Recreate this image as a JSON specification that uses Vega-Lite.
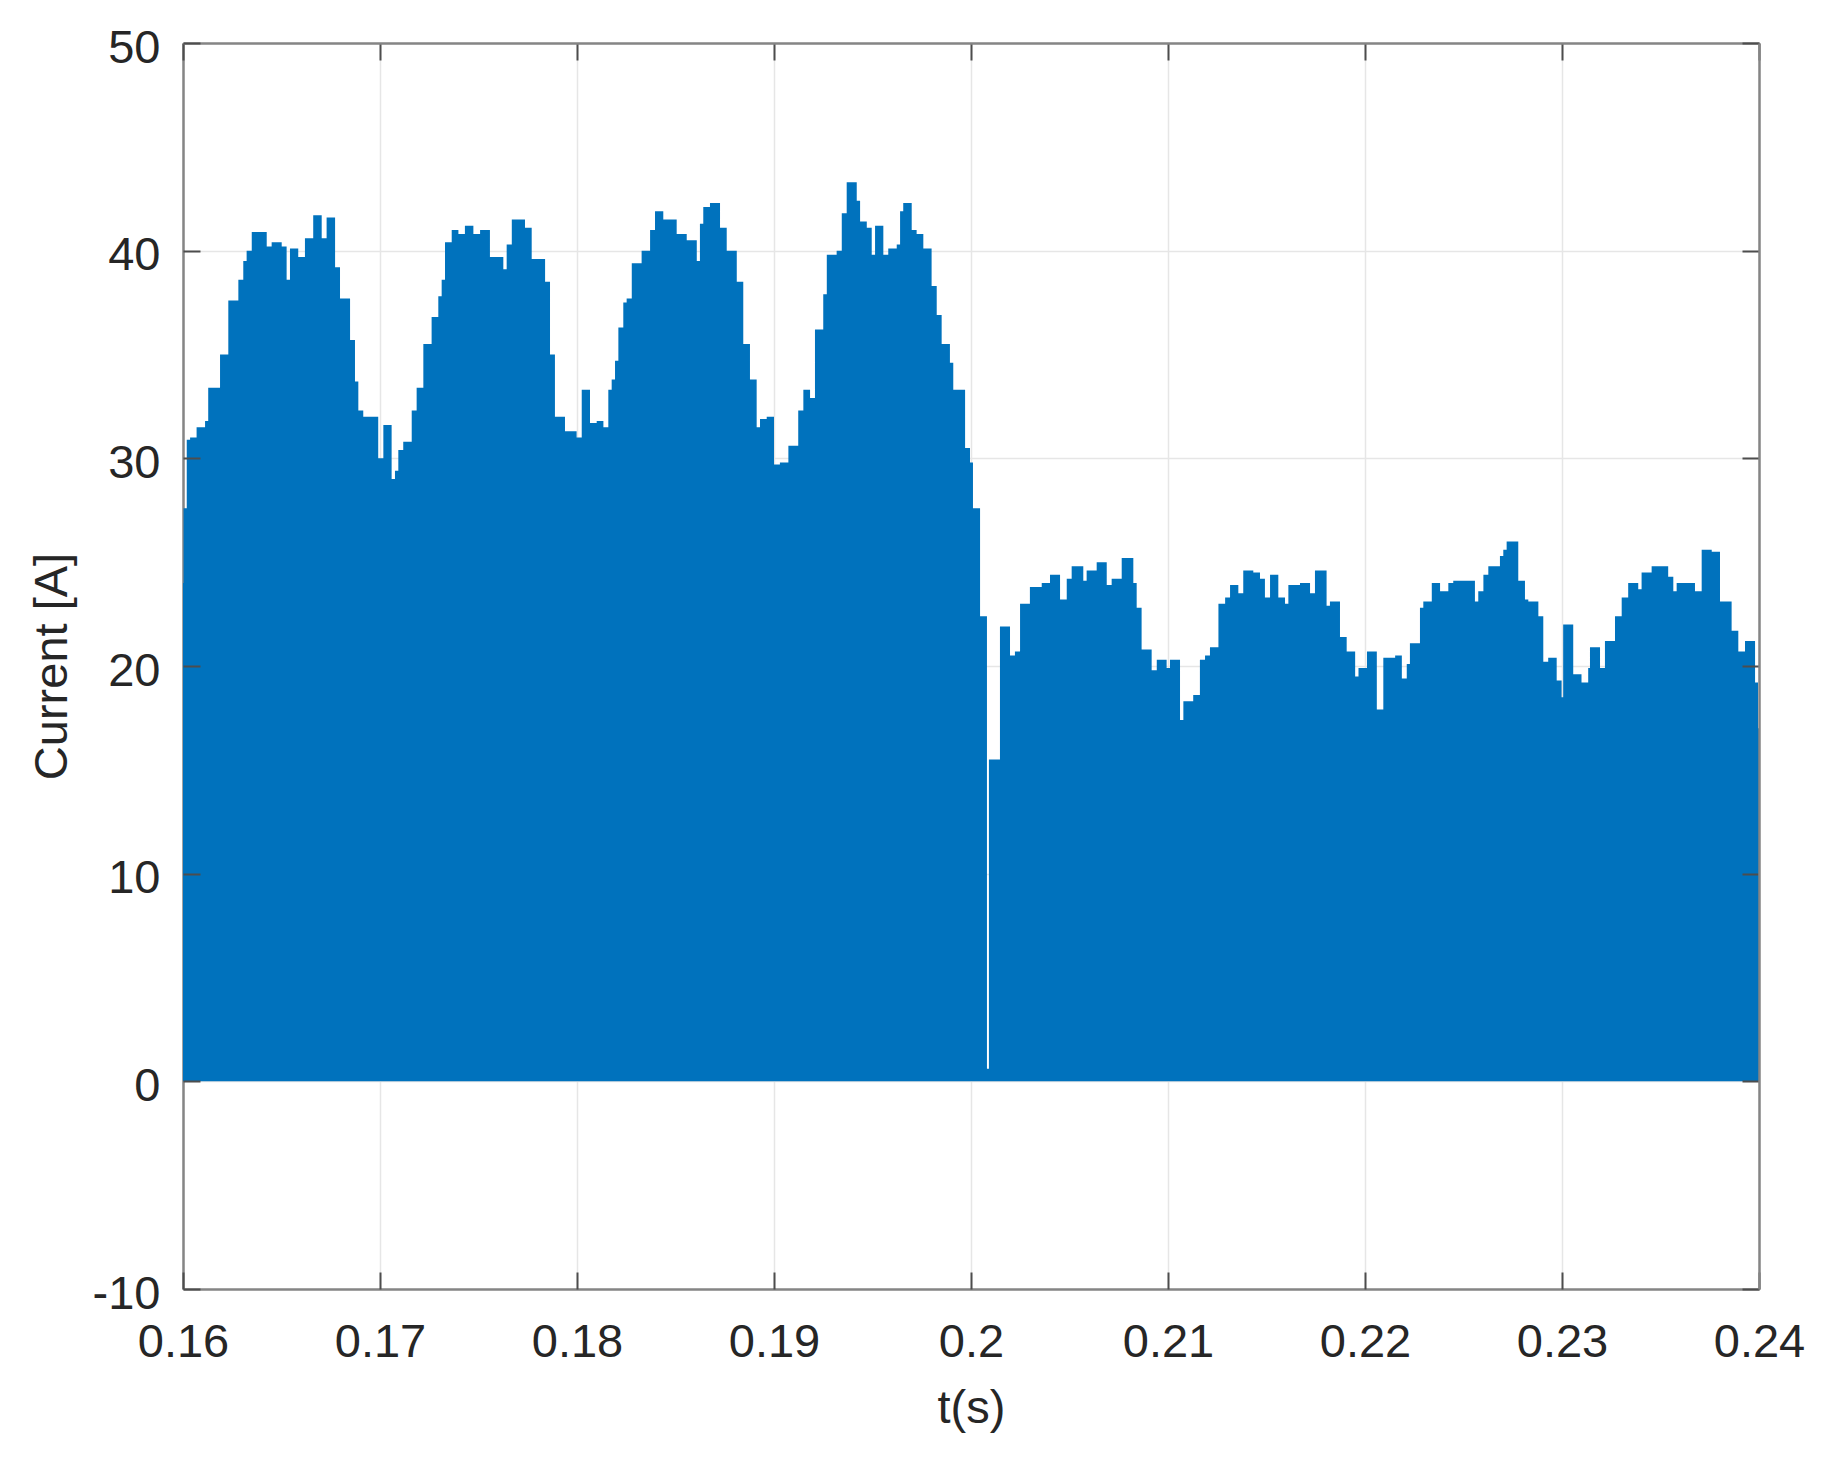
{
  "$schema": "https://vega.github.io/schema/vega-lite/v6.json",
  "width": 1576,
  "height": 1246,
  "autosize": {"type": "none"},
  "padding": {"left": 183, "top": 43, "right": 70, "bottom": 178},
  "background": "white",
  "config": {
    "view": {"stroke": null},
    "axis": {
      "labelFont": "Liberation Sans",
      "titleFont": "Liberation Sans",
      "labelFontSize": 47,
      "titleFontSize": 47,
      "labelColor": "#262626",
      "titleColor": "#262626",
      "titleFontWeight": "normal",
      "domainColor": "#858585",
      "domainWidth": 2.5,
      "tickColor": "#4d4d4d",
      "tickWidth": 2,
      "gridColor": "#e6e6e6",
      "gridWidth": 1.5,
      "labelFlush": false,
      "labelOverlap": false,
      "labelBound": false
    }
  },
  "data": {
    "values": [
      {"t": 0.16, "i": 24.0}, {"t": 0.16003, "i": 27.6}, {"t": 0.16019, "i": 30.9}, {"t": 0.16036, "i": 31.0},
      {"t": 0.16069, "i": 31.5}, {"t": 0.16112, "i": 31.8}, {"t": 0.16128, "i": 33.4}, {"t": 0.16188, "i": 35.0},
      {"t": 0.1623, "i": 37.6}, {"t": 0.16281, "i": 38.6}, {"t": 0.16306, "i": 39.5}, {"t": 0.16323, "i": 40.0},
      {"t": 0.16349, "i": 40.9}, {"t": 0.16425, "i": 40.2}, {"t": 0.1645, "i": 40.4}, {"t": 0.16501, "i": 40.2},
      {"t": 0.16526, "i": 38.6}, {"t": 0.16543, "i": 40.1}, {"t": 0.16585, "i": 39.7}, {"t": 0.16619, "i": 40.6},
      {"t": 0.16661, "i": 41.7}, {"t": 0.16704, "i": 40.6}, {"t": 0.16729, "i": 41.6}, {"t": 0.16772, "i": 39.2},
      {"t": 0.16797, "i": 37.7}, {"t": 0.16848, "i": 35.7}, {"t": 0.16873, "i": 33.7}, {"t": 0.1689, "i": 32.3},
      {"t": 0.16915, "i": 32.0}, {"t": 0.16991, "i": 30.0}, {"t": 0.17017, "i": 31.6}, {"t": 0.17059, "i": 29.0},
      {"t": 0.17076, "i": 29.4}, {"t": 0.17093, "i": 30.4}, {"t": 0.17118, "i": 30.8}, {"t": 0.17161, "i": 32.3},
      {"t": 0.17186, "i": 33.4}, {"t": 0.1722, "i": 35.5}, {"t": 0.17262, "i": 36.8}, {"t": 0.17296, "i": 37.8},
      {"t": 0.17313, "i": 38.6}, {"t": 0.1733, "i": 40.4}, {"t": 0.17364, "i": 41.0}, {"t": 0.17398, "i": 40.8},
      {"t": 0.17431, "i": 41.2}, {"t": 0.17474, "i": 40.8}, {"t": 0.17508, "i": 41.0}, {"t": 0.17558, "i": 39.7},
      {"t": 0.17626, "i": 39.1}, {"t": 0.17643, "i": 40.3}, {"t": 0.17669, "i": 41.5}, {"t": 0.17736, "i": 41.1},
      {"t": 0.1777, "i": 39.6}, {"t": 0.17838, "i": 38.5}, {"t": 0.17863, "i": 35.0}, {"t": 0.17888, "i": 32.0},
      {"t": 0.17939, "i": 31.3}, {"t": 0.17998, "i": 31.0}, {"t": 0.18024, "i": 33.3}, {"t": 0.18066, "i": 31.7},
      {"t": 0.181, "i": 31.8}, {"t": 0.18134, "i": 31.5}, {"t": 0.18159, "i": 33.3}, {"t": 0.18176, "i": 33.8},
      {"t": 0.18193, "i": 34.7}, {"t": 0.1821, "i": 36.3}, {"t": 0.18235, "i": 37.5}, {"t": 0.18252, "i": 37.7},
      {"t": 0.18278, "i": 39.4}, {"t": 0.18328, "i": 40.0}, {"t": 0.18371, "i": 41.0}, {"t": 0.18396, "i": 41.9},
      {"t": 0.18438, "i": 41.5}, {"t": 0.18506, "i": 40.8}, {"t": 0.18557, "i": 40.5}, {"t": 0.18608, "i": 39.5},
      {"t": 0.18624, "i": 41.3}, {"t": 0.18641, "i": 42.1}, {"t": 0.18675, "i": 42.3}, {"t": 0.18726, "i": 41.1},
      {"t": 0.1876, "i": 40.0}, {"t": 0.18811, "i": 38.5}, {"t": 0.18844, "i": 35.5}, {"t": 0.18878, "i": 33.8},
      {"t": 0.18912, "i": 31.5}, {"t": 0.18929, "i": 31.9}, {"t": 0.18963, "i": 32.0}, {"t": 0.19, "i": 29.7},
      {"t": 0.1903, "i": 29.8}, {"t": 0.19073, "i": 30.6}, {"t": 0.19123, "i": 32.3}, {"t": 0.19149, "i": 33.3},
      {"t": 0.19183, "i": 32.9}, {"t": 0.19208, "i": 36.2}, {"t": 0.1925, "i": 37.9}, {"t": 0.19268, "i": 39.8},
      {"t": 0.19318, "i": 40.0}, {"t": 0.19344, "i": 41.8}, {"t": 0.19369, "i": 43.3}, {"t": 0.1942, "i": 42.4},
      {"t": 0.19437, "i": 41.4}, {"t": 0.19471, "i": 41.1}, {"t": 0.19496, "i": 39.8}, {"t": 0.19513, "i": 41.2},
      {"t": 0.19555, "i": 39.8}, {"t": 0.1958, "i": 40.1}, {"t": 0.19623, "i": 40.3}, {"t": 0.1964, "i": 41.9},
      {"t": 0.19656, "i": 42.3}, {"t": 0.19699, "i": 41.0}, {"t": 0.19724, "i": 40.8}, {"t": 0.19758, "i": 40.1},
      {"t": 0.198, "i": 38.3}, {"t": 0.19826, "i": 36.9}, {"t": 0.19851, "i": 35.5}, {"t": 0.19893, "i": 34.6},
      {"t": 0.1991, "i": 33.3}, {"t": 0.1997, "i": 30.5}, {"t": 0.19995, "i": 29.8}, {"t": 0.2001, "i": 27.6},
      {"t": 0.20046, "i": 22.4}, {"t": 0.20081, "i": 0.6}, {"t": 0.20091, "i": 15.5}, {"t": 0.20147, "i": 21.9},
      {"t": 0.20198, "i": 20.5}, {"t": 0.20223, "i": 20.7}, {"t": 0.20249, "i": 23.0}, {"t": 0.20299, "i": 23.8},
      {"t": 0.20359, "i": 24.0}, {"t": 0.20401, "i": 24.4}, {"t": 0.20452, "i": 23.2}, {"t": 0.20486, "i": 24.2},
      {"t": 0.20511, "i": 24.8}, {"t": 0.2057, "i": 24.1}, {"t": 0.20587, "i": 24.6}, {"t": 0.20638, "i": 25.0},
      {"t": 0.20689, "i": 23.9}, {"t": 0.20714, "i": 24.2}, {"t": 0.20765, "i": 25.2}, {"t": 0.20824, "i": 24.0},
      {"t": 0.20841, "i": 22.8}, {"t": 0.20866, "i": 20.8}, {"t": 0.20917, "i": 19.8}, {"t": 0.20943, "i": 20.3},
      {"t": 0.20993, "i": 19.9}, {"t": 0.2101, "i": 20.3}, {"t": 0.21061, "i": 17.4}, {"t": 0.21078, "i": 18.3},
      {"t": 0.21128, "i": 18.6}, {"t": 0.21162, "i": 20.3}, {"t": 0.21188, "i": 20.5}, {"t": 0.21213, "i": 20.9},
      {"t": 0.21256, "i": 23.0}, {"t": 0.2129, "i": 23.3}, {"t": 0.21315, "i": 23.9}, {"t": 0.21357, "i": 23.5},
      {"t": 0.21382, "i": 24.6}, {"t": 0.21433, "i": 24.5}, {"t": 0.21467, "i": 24.2}, {"t": 0.21492, "i": 23.3},
      {"t": 0.21518, "i": 24.4}, {"t": 0.2156, "i": 23.3}, {"t": 0.21594, "i": 23.0}, {"t": 0.21611, "i": 23.9},
      {"t": 0.2167, "i": 24.0}, {"t": 0.21721, "i": 23.5}, {"t": 0.21746, "i": 24.6}, {"t": 0.21805, "i": 22.9},
      {"t": 0.21822, "i": 23.1}, {"t": 0.21873, "i": 21.4}, {"t": 0.21907, "i": 20.7}, {"t": 0.2195, "i": 19.5},
      {"t": 0.21967, "i": 19.9}, {"t": 0.2201, "i": 20.7}, {"t": 0.2206, "i": 17.9}, {"t": 0.22093, "i": 20.4},
      {"t": 0.22153, "i": 20.5}, {"t": 0.22187, "i": 19.4}, {"t": 0.22212, "i": 20.1}, {"t": 0.22228, "i": 21.1},
      {"t": 0.22279, "i": 22.8}, {"t": 0.22296, "i": 23.1}, {"t": 0.22339, "i": 24.0}, {"t": 0.22381, "i": 23.6},
      {"t": 0.22423, "i": 24.0}, {"t": 0.22448, "i": 24.1}, {"t": 0.22558, "i": 23.1}, {"t": 0.22575, "i": 23.6},
      {"t": 0.22601, "i": 24.4}, {"t": 0.22626, "i": 24.8}, {"t": 0.22685, "i": 25.3}, {"t": 0.22702, "i": 25.6},
      {"t": 0.22719, "i": 26.0}, {"t": 0.22778, "i": 24.1}, {"t": 0.22812, "i": 23.2}, {"t": 0.22829, "i": 23.1},
      {"t": 0.2288, "i": 22.4}, {"t": 0.22905, "i": 20.2}, {"t": 0.2293, "i": 20.4}, {"t": 0.22973, "i": 19.3},
      {"t": 0.22998, "i": 18.5}, {"t": 0.23006, "i": 22.0}, {"t": 0.23057, "i": 19.6}, {"t": 0.23099, "i": 19.2},
      {"t": 0.23133, "i": 19.9}, {"t": 0.23142, "i": 20.9}, {"t": 0.23193, "i": 19.9}, {"t": 0.23218, "i": 21.2},
      {"t": 0.23269, "i": 22.4}, {"t": 0.23303, "i": 23.3}, {"t": 0.23336, "i": 24.0}, {"t": 0.23387, "i": 23.7},
      {"t": 0.23404, "i": 24.5}, {"t": 0.23455, "i": 24.8}, {"t": 0.23539, "i": 24.3}, {"t": 0.23565, "i": 23.6},
      {"t": 0.23582, "i": 24.0}, {"t": 0.23675, "i": 23.6}, {"t": 0.23709, "i": 25.6}, {"t": 0.2376, "i": 25.5},
      {"t": 0.23802, "i": 23.1}, {"t": 0.23861, "i": 21.7}, {"t": 0.23895, "i": 20.7}, {"t": 0.23929, "i": 21.2},
      {"t": 0.2398, "i": 19.2}, {"t": 0.23995, "i": 17.0}, {"t": 0.24, "i": 17.0}
    ]
  },
  "layer": [
    {
      "mark": {"type": "area", "interpolate": "step-after", "color": "#0072BD"},
      "encoding": {
        "x": {
          "field": "t", "type": "quantitative",
          "scale": {"domain": [0.16, 0.24], "nice": false, "zero": false},
          "axis": {
            "values": [0.16, 0.17, 0.18, 0.19, 0.2, 0.21, 0.22, 0.23, 0.24],
            "labelExpr": "format(datum.value, '~g')",
            "ticks": false, "domain": true, "grid": true, "zindex": 0,
            "labelPadding": 30,
            "title": "t(s)", "titleX": 788, "titleY": 133,
            "titleBaseline": "alphabetic", "titleAlign": "center"
          }
        },
        "y": {
          "field": "i", "type": "quantitative",
          "scale": {"domain": [-10, 50], "nice": false},
          "axis": {
            "values": [-10, 0, 10, 20, 30, 40, 50],
            "labelExpr": "'' + datum.value",
            "ticks": false, "domain": true, "grid": true, "zindex": 0,
            "labelPadding": 23, "labelOffset": 5,
            "title": "Current [A]", "titleX": -117, "titleY": 623,
            "titleAngle": -90, "titleBaseline": "alphabetic", "titleAlign": "center"
          }
        },
        "y2": {"datum": 0}
      }
    },
    {
      "mark": {"type": "area", "opacity": 0},
      "encoding": {
        "x": {
          "field": "t", "type": "quantitative",
          "axis": {
            "orient": "top", "values": [0.16, 0.17, 0.18, 0.19, 0.2, 0.21, 0.22, 0.23, 0.24],
            "labels": false, "grid": false, "ticks": true, "tickSize": -17, "domain": true, "title": null, "zindex": 1
          }
        },
        "y": {
          "field": "i", "type": "quantitative",
          "axis": {
            "orient": "right", "values": [-10, 0, 10, 20, 30, 40, 50],
            "labels": false, "grid": false, "ticks": true, "tickSize": -17, "domain": true, "title": null, "zindex": 1
          }
        },
        "y2": {"datum": 0}
      }
    },
    {
      "mark": {"type": "area", "opacity": 0},
      "encoding": {
        "x": {
          "field": "t", "type": "quantitative",
          "axis": {
            "orient": "bottom", "values": [0.16, 0.17, 0.18, 0.19, 0.2, 0.21, 0.22, 0.23, 0.24],
            "labels": false, "grid": false, "ticks": true, "tickSize": -17, "domain": false, "title": null, "zindex": 1
          }
        },
        "y": {
          "field": "i", "type": "quantitative",
          "axis": {
            "orient": "left", "values": [-10, 0, 10, 20, 30, 40, 50],
            "labels": false, "grid": false, "ticks": true, "tickSize": -17, "domain": false, "title": null, "zindex": 1
          }
        },
        "y2": {"datum": 0}
      }
    }
  ],
  "resolve": {"axis": {"x": "independent", "y": "independent"}}
}
